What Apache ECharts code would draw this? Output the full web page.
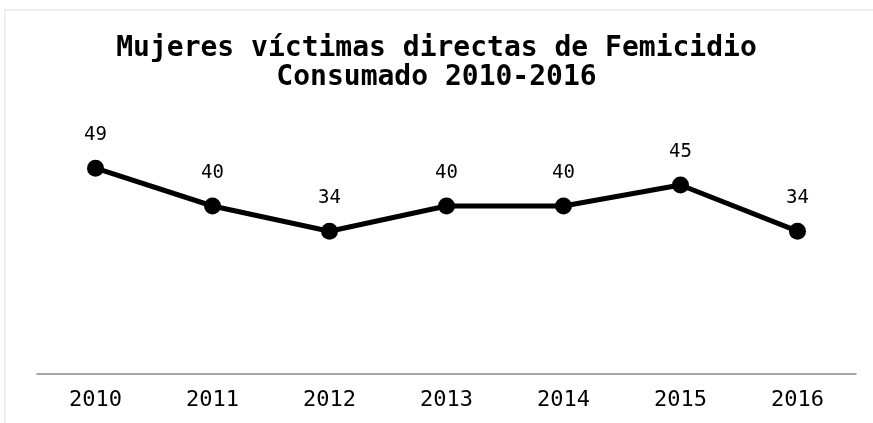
<!DOCTYPE html>
<html>
<head>
<meta charset="utf-8">
<script src="https://cdn.jsdelivr.net/npm/echarts@6/dist/echarts.min.js"></script>
<style>html,body{margin:0;padding:0;background:#fff;}#c{width:873px;height:423px;}</style>
</head>
<body>
<div id="c"></div>
<script>
const titleText = 'Mujeres víctimas directas de Femicidio\nConsumado 2010-2016';
const years = ['2010', '2011', '2012', '2013', '2014', '2015', '2016'];
const victims = [49, 40, 34, 40, 40, 45, 34];

const chart = echarts.init(document.getElementById('c'), null, {renderer: 'canvas'});
const mono = '"DejaVu Sans Mono", "Liberation Mono", monospace';
chart.setOption({
  animation: false,
  backgroundColor: '#fff',
  graphic: [{
    type: 'rect', left: 4, top: 9, z: -1,
    shape: {width: 1000, height: 500},
    style: {fill: '#fff', stroke: '#ebebeb', lineWidth: 1.5}
  }],
  title: {
    text: titleText,
    left: 'center', top: 29,
    textStyle: {fontFamily: mono, fontSize: 28, fontWeight: 'bold', color: '#000', lineHeight: 29}
  },
  grid: {left: 37, right: 17, top: 122, bottom: 49},
  xAxis: {
    type: 'category', data: years, boundaryGap: true,
    axisLine: {lineStyle: {color: '#888', width: 1.5}},
    axisTick: {show: false},
    axisLabel: {fontFamily: mono, fontSize: 22, color: '#000', margin: 15}
  },
  yAxis: {
    type: 'value', min: 0, max: 60, show: false,
    splitLine: {show: false}
  },
  series: [{
    type: 'line', data: victims,
    symbol: 'circle', symbolSize: 17,
    lineStyle: {color: '#000', width: 5},
    itemStyle: {color: '#000'},
    label: {show: true, position: 'top', distance: 15, fontFamily: mono, fontSize: 19, color: '#000'}
  }]
});
</script>
</body>
</html>
